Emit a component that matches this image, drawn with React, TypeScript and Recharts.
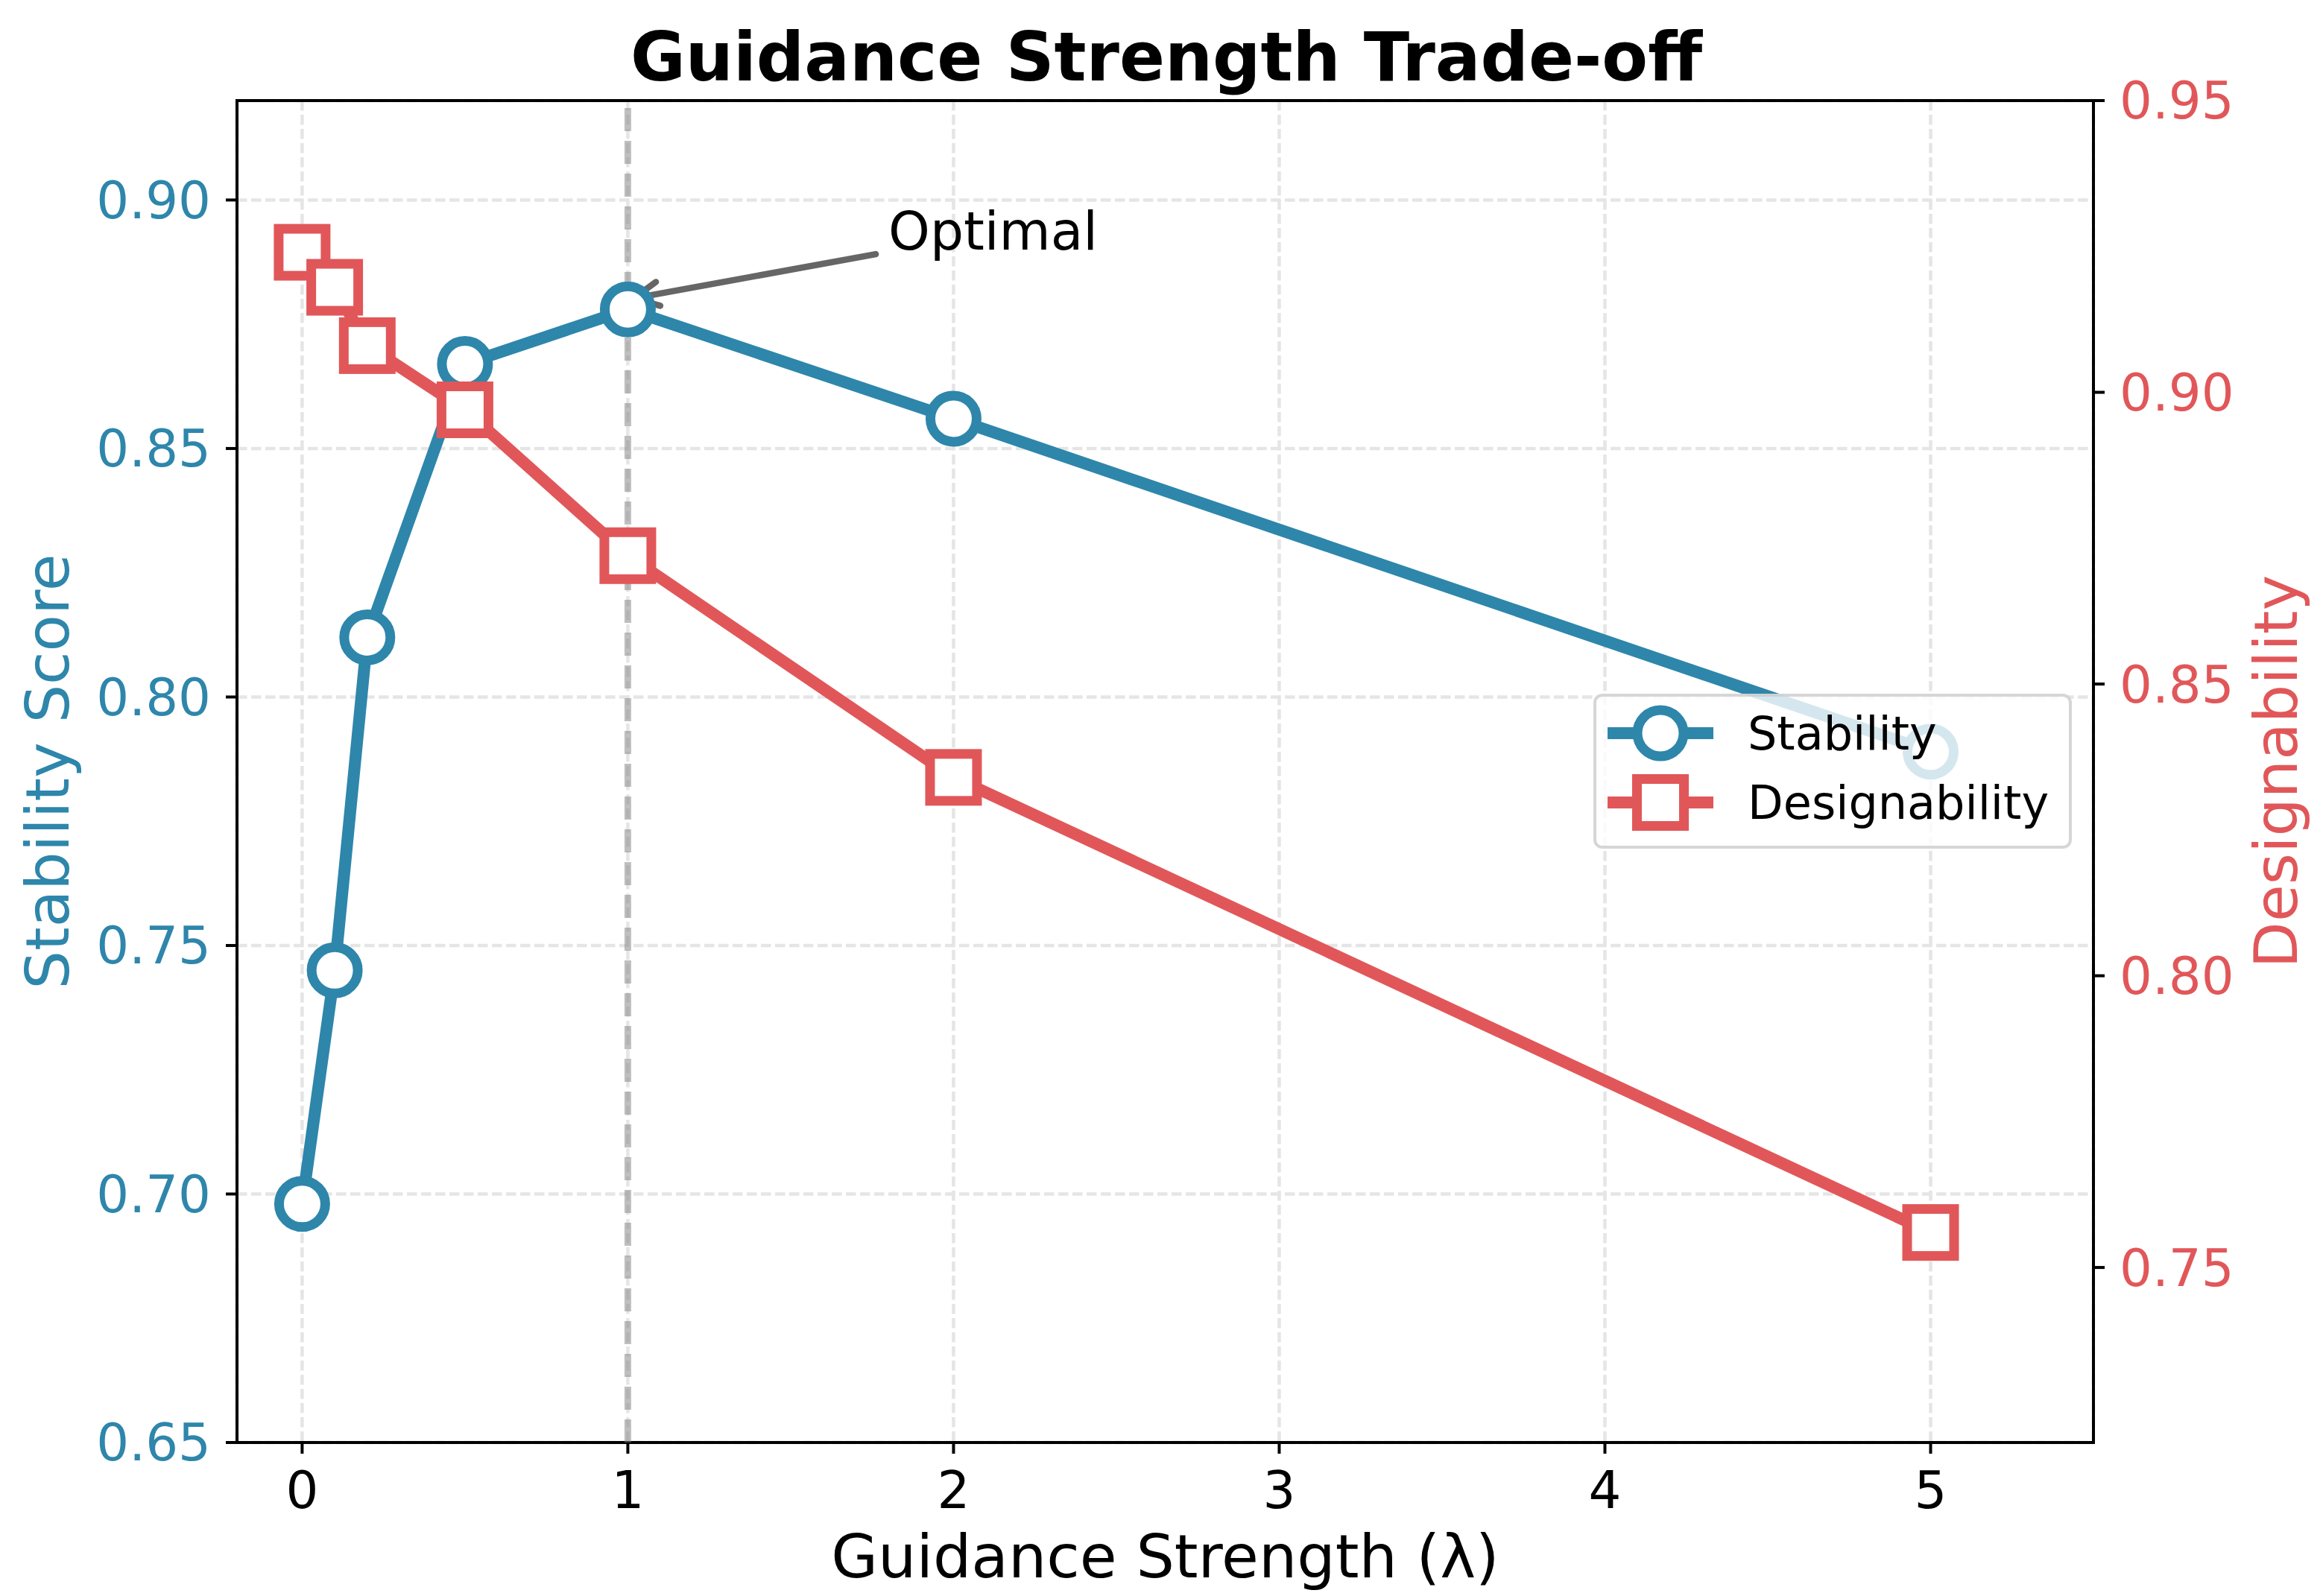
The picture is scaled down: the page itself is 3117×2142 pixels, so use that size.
import React from 'react';
import {
  LineChart,
  Line,
  XAxis,
  YAxis,
  CartesianGrid,
  Legend,
  ReferenceLine,
  ReferenceArea,
  Label,
  Customized,
} from 'recharts';

// guidance strength sweep
const lambdas = [0, 0.1, 0.2, 0.5, 1, 2, 5];
const stability = [0.698, 0.745, 0.812, 0.867, 0.878, 0.856, 0.789];
const designability = [0.924, 0.918, 0.908, 0.897, 0.872, 0.834, 0.756];

const xTicks = [0, 1, 2, 3, 4, 5];
const stabilityTicks = [0.65, 0.7, 0.75, 0.8, 0.85, 0.9];
const designabilityTicks = [0.75, 0.8, 0.85, 0.9, 0.95];

const optimalLambda = 1;
const optimalTarget = { x: 1, y: 0.88 };
const optimalTextAt = { x: 1.8, y: 0.89 };

const BLUE = '#2E86AB';
const RED = '#E15759';
const FONT = '"DejaVu Sans", sans-serif';

const W = 3117;
const H = 2142;

const chartData = lambdas.map((lambda, i) => ({
  lambda,
  stability: stability[i],
  designability: designability[i],
}));

const series = [
  { key: 'stability', name: 'Stability', color: BLUE, marker: 'circle' },
  { key: 'designability', name: 'Designability', color: RED, marker: 'square' },
];

const fmt2 = (v: number) => v.toFixed(2);

const MarkerGlyph = ({ kind, cx, cy, color }: { kind: string; cx: number; cy: number; color: string }) =>
  kind === 'circle' ? (
    <circle cx={cx} cy={cy} r={31} fill="#fff" stroke={color} strokeWidth={13} />
  ) : (
    <rect x={cx - 31.5} y={cy - 31.5} width={63} height={63} fill="#fff" stroke={color} strokeWidth={13} />
  );

const circleDot = (p: any) =>
  p.cx == null ? null : <MarkerGlyph key={`c${p.index}`} kind="circle" cx={p.cx} cy={p.cy} color={BLUE} />;
const squareDot = (p: any) =>
  p.cx == null ? null : <MarkerGlyph key={`s${p.index}`} kind="square" cx={p.cx} cy={p.cy} color={RED} />;

// annotation: text at the segment start, arrow pointing to the segment end
const OptimalArrow = (p: any) => {
  const { x1, y1, x2, y2 } = p;
  if ([x1, y1, x2, y2].some((v) => typeof v !== 'number' || Number.isNaN(v))) return null;
  const tx = x1 - 17;
  const ty = y1 + 6;
  const dx = x2 - tx;
  const dy = y2 - ty;
  const len = Math.hypot(dx, dy);
  const ux = dx / len;
  const uy = dy / len;
  const hx = x2 - ux * 8;
  const hy = y2 - uy * 8;
  const back = Math.atan2(-uy, -ux);
  const head = 37;
  const spread = (26 * Math.PI) / 180;
  const a1 = [hx + head * Math.cos(back + spread), hy + head * Math.sin(back + spread)];
  const a2 = [hx + head * Math.cos(back - spread), hy + head * Math.sin(back - spread)];
  return (
    <g>
      <line x1={tx} y1={ty} x2={hx} y2={hy} stroke="#666" strokeWidth={8.5} strokeLinecap="round" />
      <polyline
        points={`${a1[0]},${a1[1]} ${hx},${hy} ${a2[0]},${a2[1]}`}
        fill="none"
        stroke="#666"
        strokeWidth={8.5}
        strokeLinecap="round"
        strokeLinejoin="round"
      />
      <text x={x1} y={y1} fontFamily={FONT} fontSize={71} fill="#000">
        Optimal
      </text>
    </g>
  );
};

const LegendBox = () => (
  <div
    style={{
      position: 'relative',
      width: 642,
      height: 208,
      boxSizing: 'border-box',
      border: '4px solid rgba(204,204,204,0.8)',
      borderRadius: 12,
      background: 'rgba(255,255,255,0.8)',
      fontFamily: FONT,
      fontSize: 62,
      color: '#000',
    }}
  >
    {series.map((s, i) => (
      <div
        key={s.key}
        style={{
          position: 'absolute',
          left: 15,
          top: (i === 0 ? 53 : 146) - 4 - 40,
          height: 80,
          display: 'flex',
          alignItems: 'center',
          whiteSpace: 'nowrap',
        }}
      >
        <svg width={142} height={80}>
          <line x1={0} y1={40} x2={142} y2={40} stroke={s.color} strokeWidth={16} />
          <MarkerGlyph kind={s.marker} cx={71} cy={40} color={s.color} />
        </svg>
        <span style={{ marginLeft: 46 }}>{s.name}</span>
      </div>
    ))}
  </div>
);

const Title = () => (
  <text x={1565} y={108} textAnchor="middle" fontFamily={FONT} fontWeight="bold" fontSize={90} fill="#000">
    Guidance Strength Trade-off
  </text>
);

export default function App() {
  const tickLine = { stroke: '#000', strokeWidth: 4 };
  return (
    <div style={{ position: 'absolute', left: 0, top: 0, width: W, height: H, background: '#fff' }}>
      <LineChart width={W} height={H} data={chartData} margin={{ top: 135, right: 0, bottom: 0, left: 0 }}>
        <CartesianGrid
          yAxisId="left"
          stroke="#e5e5e5"
          strokeWidth={4.5}
          strokeDasharray="13.5 5.5"
        />
        <XAxis
          dataKey="lambda"
          type="number"
          domain={[-0.2, 5.5]}
          allowDataOverflow
          ticks={xTicks}
          height={206}
          axisLine={false}
          tickLine={tickLine}
          tickSize={15}
          tickMargin={24}
          tick={{ fill: '#000', fontSize: 69, fontFamily: FONT }}
        >
          <Label
            content={(p: any) => {
              const vb = p.viewBox;
              return (
                <text x={vb.x + vb.width / 2} y={vb.y + 181} textAnchor="middle" fontFamily={FONT} fontSize={81} fill="#000">
                  Guidance Strength (λ)
                </text>
              );
            }}
          />
        </XAxis>
        <YAxis
          yAxisId="left"
          orientation="left"
          type="number"
          domain={[0.65, 0.92]}
          allowDataOverflow
          ticks={stabilityTicks}
          tickFormatter={fmt2}
          width={318}
          axisLine={false}
          tickLine={tickLine}
          tickSize={15}
          tickMargin={20}
          tick={{ fill: BLUE, fontSize: 69, fontFamily: FONT }}
        >
          <Label
            content={(p: any) => {
              const vb = p.viewBox;
              const cx = 92;
              const cy = vb.y + vb.height / 2;
              return (
                <text x={cx} y={cy} transform={`rotate(-90, ${cx}, ${cy})`} textAnchor="middle" fontFamily={FONT} fontSize={81} fill={BLUE}>
                  Stability Score
                </text>
              );
            }}
          />
        </YAxis>
        <YAxis
          yAxisId="right"
          orientation="right"
          type="number"
          domain={[0.72, 0.95]}
          allowDataOverflow
          ticks={designabilityTicks}
          tickFormatter={fmt2}
          width={308}
          axisLine={false}
          tickLine={tickLine}
          tickSize={15}
          tickMargin={20}
          tick={{ fill: RED, fontSize: 69, fontFamily: FONT }}
        >
          <Label
            content={(p: any) => {
              const vb = p.viewBox;
              const cx = vb.x + 273;
              const cy = vb.y + vb.height / 2;
              return (
                <text x={cx} y={cy} transform={`rotate(-90, ${cx}, ${cy})`} textAnchor="middle" fontFamily={FONT} fontSize={81} fill={RED}>
                  Designability
                </text>
              );
            }}
          />
        </YAxis>

        <Line
          yAxisId="left"
          dataKey="stability"
          name="Stability"
          type="linear"
          stroke={BLUE}
          strokeWidth={16}
          dot={circleDot}
          activeDot={false}
          isAnimationActive={false}
        />
        <Line
          yAxisId="right"
          dataKey="designability"
          name="Designability"
          type="linear"
          stroke={RED}
          strokeWidth={16}
          dot={squareDot}
          activeDot={false}
          isAnimationActive={false}
        />

        <ReferenceLine
          yAxisId="left"
          x={optimalLambda}
          stroke="#808080"
          strokeOpacity={0.5}
          strokeWidth={9}
          strokeDasharray="31 13"
        />
        <ReferenceArea
          yAxisId="left"
          x1={-0.2}
          x2={5.5}
          y1={0.65}
          y2={0.92}
          fill="none"
          fillOpacity={0}
          stroke="#000"
          strokeWidth={4}
        />
        <ReferenceLine
          yAxisId="left"
          segment={[optimalTextAt, optimalTarget]}
          shape={OptimalArrow}
        />
        <Customized component={Title} />
        <Legend
          layout="vertical"
          align="center"
          verticalAlign="middle"
          content={() => <LegendBox />}
          wrapperStyle={{ left: 2138, top: 931, width: 642, height: 208 }}
        />
      </LineChart>
    </div>
  );
}
